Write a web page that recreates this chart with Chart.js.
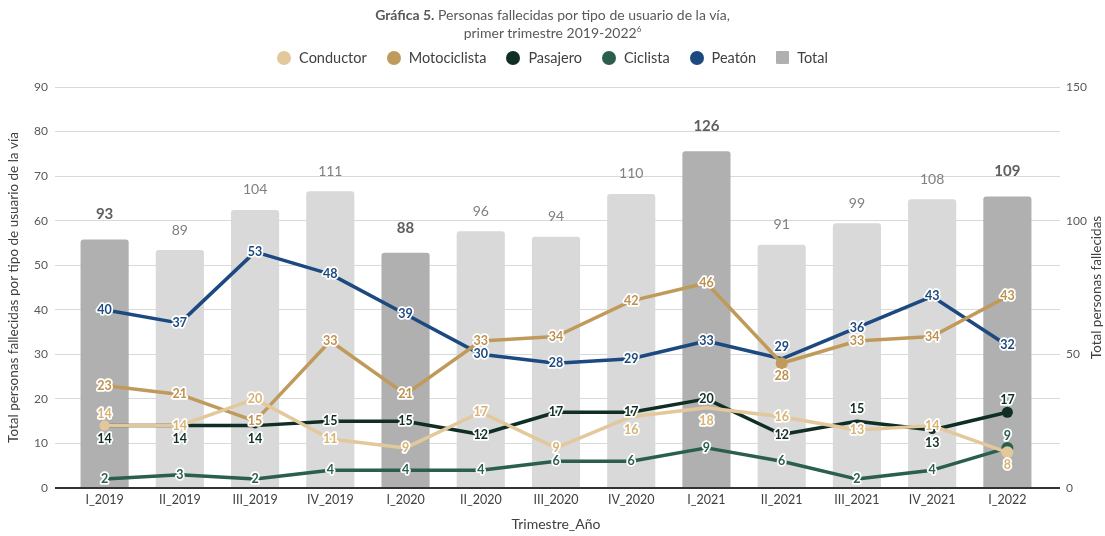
<!DOCTYPE html>
<html><head><meta charset="utf-8">
<script src="https://cdn.jsdelivr.net/npm/chart.js@4.4.1/dist/chart.umd.min.js"></script>
<style>
html,body{margin:0;padding:0;background:#fff;}
#wrap{position:relative;width:1105px;height:536px;font-family:Lato,"Noto Sans",sans-serif;}
#title{position:absolute;left:0;width:1105px;top:6px;text-align:center;color:#595959;font-size:14px;line-height:18px;}
#title sup{font-size:8px;line-height:0;vertical-align:6px;}
#legend{position:absolute;top:49px;left:0;width:1105px;display:flex;justify-content:center;font-size:14.5px;color:#404040;}
.li{display:flex;align-items:center;margin:0 10px;}
.mk{width:14px;height:14px;border-radius:50%;margin-right:8px;}
.sq{border-radius:1px;}
canvas{position:absolute;left:0;top:0;}
</style></head>
<body><div id="wrap">
<canvas id="c" width="1105" height="536"></canvas>
<div id="title"><b>Gráfica 5.</b> Personas fallecidas por tipo de usuario de la vía,<br>primer trimestre 2019-2022<sup>6</sup></div>
<div id="legend"></div>
</div>
<script>
const categories = ["I_2019","II_2019","III_2019","IV_2019","I_2020","II_2020","III_2020","IV_2020","I_2021","II_2021","III_2021","IV_2021","I_2022"];
const conductor    = [14,14,20,11,9,17,9,16,18,16,13,14,8];
const motociclista = [23,21,15,33,21,33,34,42,46,28,33,34,43];
const pasajero     = [14,14,14,15,15,12,17,17,20,12,15,13,17];
const ciclista     = [2,3,2,4,4,4,6,6,9,6,2,4,9];
const peaton       = [40,37,53,48,39,30,28,29,33,29,36,43,32];
const total        = [93,89,104,111,88,96,94,110,126,91,99,108,109];
const leftTicks = [0,10,20,30,40,50,60,70,80,90];
const rightTickLabels = [0,50,100,150];
const rightTitle = 'Total personas fallecidas';

const COL = {cond:'#e2c89b', moto:'#c09a5b', pas:'#0f2f25', cic:'#2a5f4d', pea:'#1c4a80', totD:'#b0b0b0', totL:'#d9d9d9'};
const isFirstQ = categories.map(c=>c.startsWith('I_'));

function mkLine(label, data, color, textColor, pos, radii){
  return {type:'line', label, data, borderColor:color, backgroundColor:color, borderWidth:3.5,
    pointRadius:radii, pointBackgroundColor:color, pointBorderWidth:0, pointHoverRadius:0,
    tension:0, borderCapStyle:'round', borderJoinStyle:'round', yAxisID:'y', order:0,
    labelColor:textColor, labelPos:pos};
}
const z = n=>Array(13).fill(0);
const rCond = z(); rCond[0]=5; rCond[1]=5; rCond[12]=6;
const rMoto = z(); rMoto[9]=6;
const rPas = z(); rPas[12]=5.5; rPas[11]=4; rPas[2]=3;
const rCic = z(); rCic[12]=6;

const datasets = [
  mkLine('Conductor', conductor, COL.cond, '#d7b273', ['a','c','c','c','c','c','c','b','b','c','c','c','b'], rCond),
  mkLine('Motociclista', motociclista, COL.moto, '#bf9150', ['c','c','c','c','c','c','c','c','c','b','c','c','c'], rMoto),
  mkLine('Pasajero', pasajero, COL.pas, '#0f2f25', ['b','b','b','c','c','c','c','c','c','c','a','b','a'], rPas),
  mkLine('Ciclista', ciclista, COL.cic, '#2a5f4d', ['c','c','c','c','c','c','c','c','c','c','c','c','a'], rCic),
  mkLine('Peatón', peaton, COL.pea, '#1c4a80', ['c','c','c','c','c','c','c','c','c','a','c','c','c'], z()),
  {type:'bar', label:'Total', data:total, yAxisID:'y2', order:1,
   backgroundColor: isFirstQ.map(f=>f?COL.totD:COL.totL), borderWidth:0,
   borderRadius:{topLeft:3,topRight:3}, borderSkipped:'bottom',
   barPercentage:0.64, categoryPercentage:1}
];

const lg = document.getElementById('legend');
datasets.forEach(ds=>{
  const d=document.createElement('div'); d.className='li';
  const m=document.createElement('div'); m.className='mk'+(ds.type==='bar'?' sq':'');
  m.style.background = ds.type==='bar' ? COL.totD : ds.borderColor;
  if(ds.type==='bar'){m.style.width='13px';m.style.height='13px';}
  const t=document.createElement('span'); t.textContent=ds.label;
  d.appendChild(m); d.appendChild(t); lg.appendChild(d);
});

const labelPlugin = {
  id:'vlabels',
  afterDatasetsDraw(chart){
    const ctx = chart.ctx;
    ctx.save();
    ctx.textAlign='center'; ctx.textBaseline='middle';
    chart.data.datasets.forEach((ds,i)=>{
      const meta = chart.getDatasetMeta(i);
      meta.data.forEach((el,j)=>{
        const v = ds.data[j];
        if(ds.type==='bar'){
          const b = isFirstQ[j];
          ctx.font = b ? 'bold 15px Lato' : '14px Lato';
          ctx.fillStyle = b ? '#5f5f5f' : '#808080';
          ctx.fillText(String(v), el.x, el.y - (b?25:20));
        } else {
          const p = ds.labelPos[j];
          const dy = p==='a' ? -12 : (p==='b' ? 13 : 0);
          ctx.font = 'bold 12.5px Lato';
          ctx.lineWidth = 3.5; ctx.lineJoin='round'; ctx.strokeStyle='#ffffff';
          ctx.strokeText(String(v), el.x, el.y+dy);
          ctx.fillStyle = ds.labelColor;
          ctx.fillText(String(v), el.x, el.y+dy);
        }
      });
    });
    // right axis title, reading bottom-to-top
    const s = chart.scales.y2;
    ctx.font = '13.5px Lato'; ctx.fillStyle = '#404040';
    ctx.translate(1097, (chart.chartArea.top + chart.chartArea.bottom)/2);
    ctx.rotate(-Math.PI/2);
    ctx.fillText(rightTitle, 0, 0);
    ctx.restore();
  }
};

new Chart(document.getElementById('c'), {
  data:{labels:categories, datasets},
  options:{
    responsive:false, animation:false, devicePixelRatio:1,
    layout:{padding:{top:87,bottom:3,left:0,right:0}},
    plugins:{legend:{display:false}, tooltip:{enabled:false}},
    scales:{
      x:{grid:{display:false, drawTicks:false}, border:{display:false},
         ticks:{color:'#404040', font:{family:'Lato', size:12.5}, padding:4, maxRotation:0, autoSkip:false},
         title:{display:true, text:'Trimestre_Año', color:'#404040', font:{family:'Lato', size:14}, padding:{top:6,bottom:0}},
         afterFit(s){ s.height = 45; }},
      y:{position:'left', min:0, max:90, border:{display:false},
         afterBuildTicks(s){ s.ticks = leftTicks.map(v=>({value:v})); },
         ticks:{color:'#595959', font:{family:'Lato', size:12}, padding:7},
         grid:{color:c=>c.tick && c.tick.value===0 ? '#333333' : '#d9d9d9', lineWidth:c=>c.tick && c.tick.value===0 ? 2 : 1, tickLength:12},
         title:{display:true, text:'Total personas fallecidas por tipo de usuario de la vía', color:'#404040', font:{family:'Lato', size:13.5}, padding:{top:6,bottom:0}},
         afterFit(s){ s.width = 67; }},
      y2:{position:'right', min:0, max:150, border:{display:false},
         afterBuildTicks(s){ s.ticks = leftTicks.map(v=>({value:v*150/90})); },
         ticks:{color:'#595959', font:{family:'Lato', size:12}, padding:6,
           callback:(v)=>{ const r=Math.round(v); return (Math.abs(v-r)<1e-6 && rightTickLabels.includes(r)) ? String(r) : ''; }},
         grid:{drawOnChartArea:false, color:c=>c.tick && Math.abs(c.tick.value)<1e-6 ? '#333333' : '#d9d9d9', lineWidth:c=>c.tick && Math.abs(c.tick.value)<1e-6 ? 2 : 1, tickLength:15},
         title:{display:false},
         afterFit(s){ s.width = 60; }}
    }
  },
  plugins:[labelPlugin]
});
</script>
</body></html>
